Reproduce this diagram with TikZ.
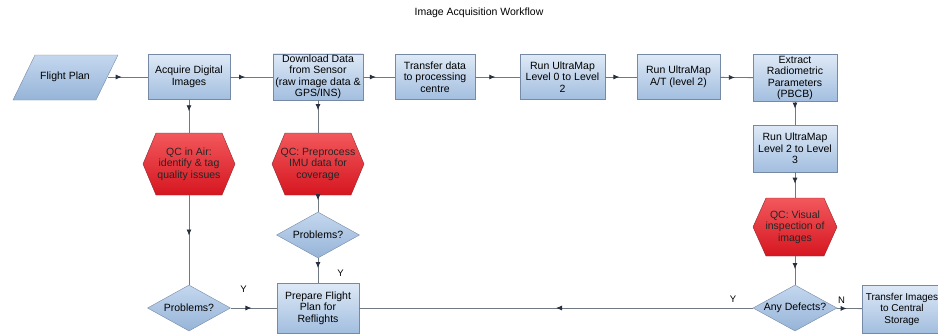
\documentclass[tikz,border=0pt]{standalone}
\usepackage{fontspec}
\setmainfont{Liberation Sans}
\usepackage{xcolor}
\usetikzlibrary{shapes.geometric,arrows.meta,decorations.markings}

\definecolor{boxtop}{RGB}{222,233,246}
\definecolor{boxbot}{RGB}{162,190,223}
\definecolor{boxline}{RGB}{118,138,165}
\definecolor{diatop}{RGB}{196,215,238}
\definecolor{diabot}{RGB}{150,180,216}
\definecolor{qctop}{RGB}{242,88,92}
\definecolor{qcbot}{RGB}{214,22,32}
\definecolor{qcline}{RGB}{140,40,45}
\definecolor{flowline}{RGB}{112,120,130}
\definecolor{flowhead}{RGB}{40,48,62}

\begin{document}
\begin{tikzpicture}[x=1pt, y=-1pt,
    every node/.style={font=\fontsize{10.5}{11.5}\selectfont, align=center, inner sep=1pt},
    stepbox/.style={draw=boxline, top color=boxtop, bottom color=boxbot, minimum height=45pt},
    decision/.style={diamond, aspect=1.8, inner sep=0pt, draw=boxline, top color=diatop, bottom color=diabot, minimum width=83pt, minimum height=46pt},
    qcnode/.style={text=black!85},
    flow/.style={draw=flowline, line width=0.8pt, postaction={decorate},
        decoration={markings, mark=at position #1 with {\arrow{Latex[length=6pt,width=5pt,color=flowhead]}}}},
    flow/.default=0.45,
    answer/.style={font=\fontsize{9.5}{10}\selectfont}]
    \def\qchex#1#2#3#4#5{%
        \draw[draw=qcline, top color=qctop, bottom color=qcbot] (#2) ++(-#3,0) -- ++(13,-#4) -- ++({2*#3-26},0)
            -- ++(13,#4) -- ++(-13,#4) -- ++({26-2*#3},0) -- cycle;
        \node[qcnode, minimum width=2*#3, minimum height=2*#4] (#1) at (#2) {#5};}
    \useasboundingbox (0,0) rectangle (938,333);
    \node (title) at (479,13) {Image Acquisition Workflow};
    % top row
    \draw[draw=boxline, top color=diatop, bottom color=diabot] (13,100) -- (35,55) -- (118,55) -- (96,100) -- cycle;
    \node[minimum width=85pt, minimum height=45pt] (flight) at (65,77) {Flight Plan};
    \node[stepbox, minimum width=82pt] (acquire) at (189,77) {Acquire Digital\\Images};
    \node[stepbox, minimum width=90pt] (download) at (318,77) {Download Data\\from Sensor\\(raw image data \&\\GPS/INS)};
    \node[stepbox, minimum width=80pt] (transfer) at (435,77) {Transfer data\\to processing\\centre};
    \node[stepbox, minimum width=85pt] (levelA) at (562.5,77) {Run UltraMap\\Level 0 to Level\\2};
    \node[stepbox, minimum width=83pt] (triang) at (678.5,77) {Run UltraMap\\A/T (level 2)};
    \node[stepbox, minimum width=84pt, minimum height=47pt] (extract) at (795,78) {Extract\\Radiometric\\Parameters\\(PBCB)};
    % right column
    \node[stepbox, minimum width=84pt, minimum height=47pt] (levelB) at (795,148.5) {Run UltraMap\\Level 2 to Level\\3};
    \qchex{qcvisual}{795,227}{42}{29}{QC: Visual\\inspection of\\images}
    \node[decision, minimum width=84pt] (defects) at (795,308) {Any Defects?};
    \node[stepbox, minimum width=80pt, minimum height=48pt, font=\fontsize{10}{11.5}\selectfont] (storage) at (902,309) {Transfer Images\\to Central\\Storage};
    % left columns
    \qchex{qcair}{189,164}{46}{31}{QC in Air:\\identify \& tag\\quality issues}
    \qchex{qcimu}{318,164}{46}{31}{QC: Preprocess\\IMU data for\\coverage}
    \node[decision] (probimu) at (318,235) {Problems?};
    \node[decision] (probair) at (189,308) {Problems?};
    \node[stepbox, minimum width=82pt, minimum height=50pt] (reflight) at (318,308) {Prepare Flight\\Plan for\\Reflights};
    % connectors
    \draw[flow=0.35] (flight) -- (acquire);
    \draw[flow=0.35] (acquire) -- (download);
    \draw[flow=0.4] (download) -- (transfer);
    \draw[flow] (transfer) -- (levelA);
    \draw[flow] (levelA) -- (triang);
    \draw[flow] (triang) -- (extract);
    \draw[flow=0.3] (extract) -- (levelB);
    \draw[flow] (levelB) -- (qcvisual);
    \draw[flow] (qcvisual) -- (defects);
    \draw[flow=0.4] (defects) -- node[answer, above=4pt, pos=0.2] (ansN) {N} (storage);
    \draw[flow=0.5] (defects) -- node[answer, above=4pt, pos=0.05] (ansYc) {Y} (reflight);
    \draw[flow=0.35] (acquire) -- (qcair);
    \draw[flow] (qcair) -- (probair);
    \draw[flow] (probair) -- node[answer, above=14pt, pos=0.28] (ansYa) {Y} (reflight);
    \draw[flow=0.3] (download) -- (qcimu);
    \draw[flow=0.3] (qcimu) -- (probimu);
    \draw[flow=0.4] (probimu) -- node[answer, right=18pt, pos=0.6] (ansYb) {Y} (reflight);
\end{tikzpicture}
\end{document}
